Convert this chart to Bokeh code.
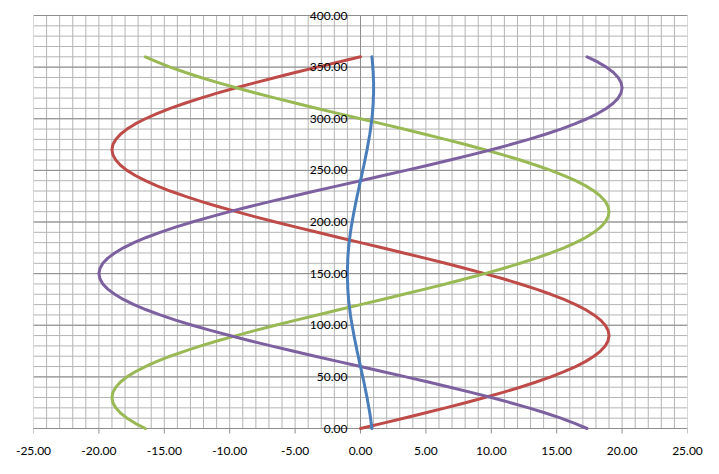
from bokeh.plotting import figure
from bokeh.models import FixedTicker, Label, Range1d, NumeralTickFormatter
from bokeh.embed import file_html
from bokeh.resources import INLINE

# vertical position of every point (degrees, 0..360)
angle = [0, 5, 10, 15, 20, 25, 30, 35, 40, 45, 50, 55, 60, 65, 70, 75, 80, 85, 90,
         95, 100, 105, 110, 115, 120, 125, 130, 135, 140, 145, 150, 155, 160, 165, 170, 175, 180,
         185, 190, 195, 200, 205, 210, 215, 220, 225, 230, 235, 240, 245, 250, 255, 260, 265, 270,
         275, 280, 285, 290, 295, 300, 305, 310, 315, 320, 325, 330, 335, 340, 345, 350, 355, 360]

red = [0.00, 1.66, 3.30, 4.92, 6.50, 8.03, 9.50, 10.90, 12.21, 13.43, 14.55, 15.56, 16.45, 17.22, 17.85, 18.35, 18.71, 18.93, 19.00,
       18.93, 18.71, 18.35, 17.85, 17.22, 16.45, 15.56, 14.55, 13.43, 12.21, 10.90, 9.50, 8.03, 6.50, 4.92, 3.30, 1.66, 0.00,
       -1.66, -3.30, -4.92, -6.50, -8.03, -9.50, -10.90, -12.21, -13.43, -14.55, -15.56, -16.45, -17.22, -17.85, -18.35, -18.71, -18.93, -19.00,
       -18.93, -18.71, -18.35, -17.85, -17.22, -16.45, -15.56, -14.55, -13.43, -12.21, -10.90, -9.50, -8.03, -6.50, -4.92, -3.30, -1.66, 0.00]

green = [-16.45, -17.22, -17.85, -18.35, -18.71, -18.93, -19.00,
         -18.93, -18.71, -18.35, -17.85, -17.22, -16.45, -15.56, -14.55, -13.43, -12.21, -10.90, -9.50, -8.03, -6.50, -4.92, -3.30, -1.66,
         0.00, 1.66, 3.30, 4.92, 6.50, 8.03, 9.50, 10.90, 12.21, 13.43, 14.55, 15.56, 16.45, 17.22, 17.85, 18.35, 18.71, 18.93, 19.00,
         18.93, 18.71, 18.35, 17.85, 17.22, 16.45, 15.56, 14.55, 13.43, 12.21, 10.90, 9.50, 8.03, 6.50, 4.92, 3.30, 1.66, 0.00,
         -1.66, -3.30, -4.92, -6.50, -8.03, -9.50, -10.90, -12.21, -13.43, -14.55, -15.56, -16.45]

purple = [17.32, 16.38, 15.32, 14.14, 12.86, 11.47, 10.00, 8.45, 6.84, 5.18, 3.47, 1.74, 0.00,
          -1.74, -3.47, -5.18, -6.84, -8.45, -10.00, -11.47, -12.86, -14.14, -15.32, -16.38, -17.32, -18.13, -18.79, -19.32, -19.70, -19.92, -20.00,
          -19.92, -19.70, -19.32, -18.79, -18.13, -17.32, -16.38, -15.32, -14.14, -12.86, -11.47, -10.00, -8.45, -6.84, -5.18, -3.47, -1.74, 0.00,
          1.74, 3.47, 5.18, 6.84, 8.45, 10.00, 11.47, 12.86, 14.14, 15.32, 16.38, 17.32, 18.13, 18.79, 19.32, 19.70, 19.92, 20.00,
          19.92, 19.70, 19.32, 18.79, 18.13, 17.32]

blue = [0.87, 0.82, 0.77, 0.71, 0.64, 0.57, 0.50, 0.42, 0.34, 0.26, 0.17, 0.09, 0.00,
        -0.09, -0.17, -0.26, -0.34, -0.42, -0.50, -0.57, -0.64, -0.71, -0.77, -0.82, -0.87, -0.91, -0.94, -0.97, -0.98, -1.00, -1.00,
        -1.00, -0.98, -0.97, -0.94, -0.91, -0.87, -0.82, -0.77, -0.71, -0.64, -0.57, -0.50, -0.42, -0.34, -0.26, -0.17, -0.09, 0.00,
        0.09, 0.17, 0.26, 0.34, 0.42, 0.50, 0.57, 0.64, 0.71, 0.77, 0.82, 0.87, 0.91, 0.94, 0.97, 0.98, 1.00, 1.00,
        1.00, 0.98, 0.97, 0.94, 0.91, 0.87]

x_ticks = [-25, -20, -15, -10, -5, 0, 5, 10, 15, 20, 25]
x_minor = list(range(-25, 26, 1))
y_ticks = [0, 50, 100, 150, 200, 250, 300, 350, 400]
y_minor = list(range(0, 401, 10))
y_labels = ["0.00", "50.00", "100.00", "150.00", "200.00", "250.00", "300.00", "350.00", "400.00"]

FONT = "Lato"
GRID = "#b4b4b4"
MAJOR = "#8e8e8e"

# plot area is 654 x 413 px; the frame gets a few extra px above/below so that
# the y labels at 0 and 400 are not cut off
PLOT_H = 413.0
EXTRA_TOP, EXTRA_BOTTOM = 7, 8
upp = (y_ticks[-1] - y_ticks[0]) / PLOT_H

p = figure(frame_width=654, frame_height=int(PLOT_H) + EXTRA_TOP + EXTRA_BOTTOM,
           output_backend="svg", toolbar_location=None,
           x_range=Range1d(x_ticks[0], x_ticks[-1]),
           y_range=Range1d(y_ticks[0] - EXTRA_BOTTOM * upp, y_ticks[-1] + EXTRA_TOP * upp),
           min_border_left=33, min_border_right=16, min_border_top=8, min_border_bottom=22)
p.background_fill_color = "white"
p.border_fill_color = "white"
p.outline_line_color = None
p.xgrid.visible = False
p.ygrid.visible = False
p.yaxis.visible = False

# grid lines
p.segment(x0=x_minor, y0=[y_ticks[0]] * len(x_minor), x1=x_minor, y1=[y_ticks[-1]] * len(x_minor),
          line_color=GRID, line_width=1)
p.segment(x0=[x_ticks[0]] * len(y_minor), y0=y_minor, x1=[x_ticks[-1]] * len(y_minor), y1=y_minor,
          line_color=GRID, line_width=1)
p.segment(x0=[x_ticks[0]] * len(y_ticks), y0=y_ticks, x1=[x_ticks[-1]] * len(y_ticks), y1=y_ticks,
          line_color=MAJOR, line_width=1)
# vertical axis line at x = 0
p.segment(x0=[0], y0=[y_ticks[0]], x1=[0], y1=[y_ticks[-1]], line_color=MAJOR, line_width=1)
# x tick marks below y = 0
p.ray(x=x_ticks, y=[y_ticks[0]] * len(x_ticks), length=5, length_units="screen",
      angle=-90, angle_units="deg", line_color=MAJOR, line_width=1)

ax = p.xaxis[0]
ax.ticker = FixedTicker(ticks=x_ticks)
ax.formatter = NumeralTickFormatter(format="0.00")
ax.axis_line_color = None
ax.major_tick_line_color = None
ax.minor_tick_line_color = None
ax.major_tick_out = 0
ax.major_tick_in = 0
ax.minor_tick_out = 0
ax.minor_tick_in = 0
ax.major_label_standoff = 10
ax.major_label_text_font = FONT
ax.major_label_text_font_size = "12px"
ax.major_label_text_color = "black"

colors = {"red": "#BE4B48", "green": "#98B954", "purple": "#7D60A0", "blue": "#4A7EBB"}
for xs, c in [(red, colors["red"]), (green, colors["green"]), (purple, colors["purple"]), (blue, colors["blue"])]:
    p.line(xs, angle, line_color=c, line_width=3, line_join="round", line_cap="round")

for yv, txt in zip(y_ticks, y_labels):
    p.add_layout(Label(x=0, y=yv, text=txt, x_offset=-13, text_align="right", text_baseline="middle",
                       text_font=FONT, text_font_size="12px", text_color="black"))

open("out.html", "w").write(file_html(p, INLINE))
